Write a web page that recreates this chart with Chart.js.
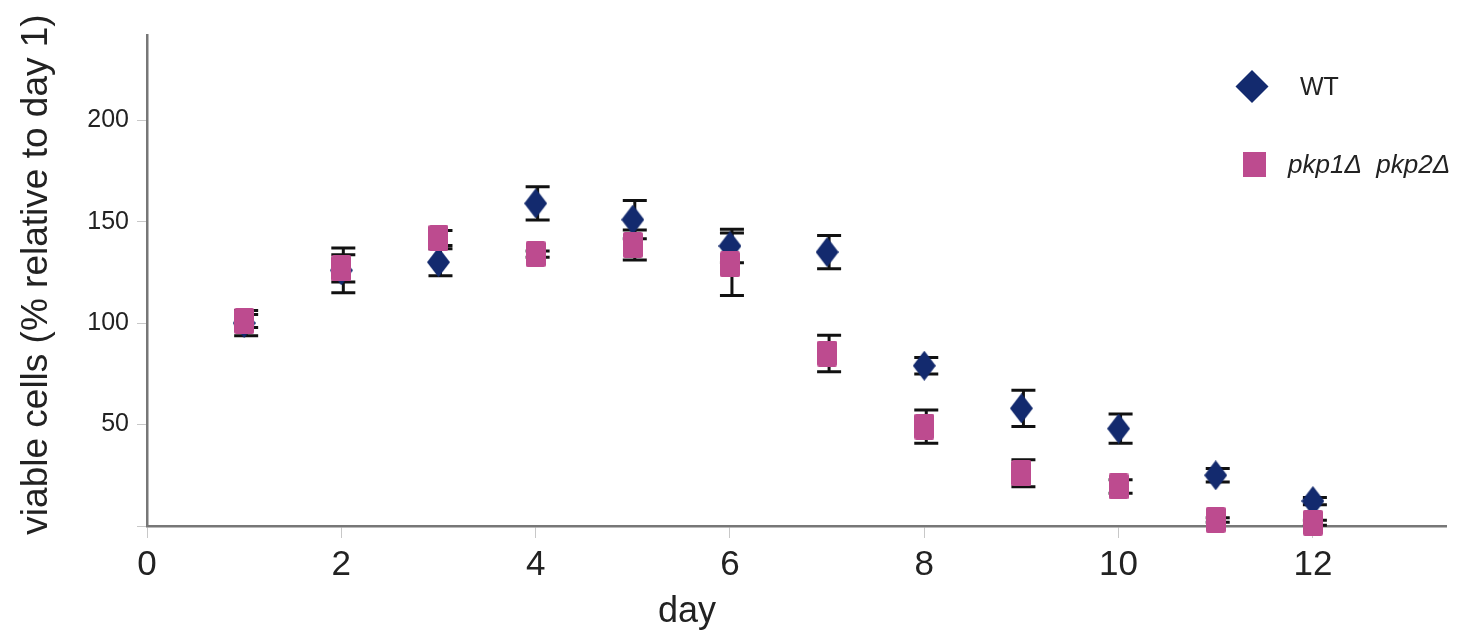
<!DOCTYPE html>
<html>
<head>
<meta charset="utf-8">
<script src="https://cdn.jsdelivr.net/npm/chart.js@4"></script>
<style>
  html, body { margin: 0; padding: 0; background: #fff; }
</style>
</head>
<body>
<canvas id="chart" width="1458" height="636"></canvas>
<script>
// values
const days = [1, 2, 3, 4, 5, 6, 7, 8, 9, 10, 11, 12];
const wtValues = [100, 126, 130, 159, 151, 138, 135, 79, 58, 48, 25, 12.3];
const wtErrors = [6.2, 11, 6.6, 8.2, 9.4, 8.2, 8.2, 4.1, 8.9, 7.2, 3.3, 1.8];
const pkpValues = [101, 127, 142, 134, 138.5, 129, 85, 49, 26, 19.5, 3, 1.6];
const pkpErrors = [3.2, 6.7, 3.7, 1.6, 7.4, 15.4, 9, 8.2, 6.7, 3.3, 1.1, 1.2];
const xTicks = [0, 2, 4, 6, 8, 10, 12];
const yTicks = [0, 50, 100, 150, 200];

const navy = "#132a6e";
const pink = "#bd4b8f";
const font = "'Liberation Sans', Arial, sans-serif";

function makeSquare(w, h, color) {
  const c = document.createElement("canvas");
  c.width = w;
  c.height = h;
  const g = c.getContext("2d");
  g.fillStyle = color;
  g.beginPath();
  g.roundRect(0, 0, w, h, 2);
  g.fill();
  return c;
}

function makeDiamond(w, h, color) {
  const c = document.createElement("canvas");
  c.width = w;
  c.height = h;
  const g = c.getContext("2d");
  g.fillStyle = color;
  g.beginPath();
  g.moveTo(w / 2, 0);
  g.lineTo(w, h / 2);
  g.lineTo(w / 2, h);
  g.lineTo(0, h / 2);
  g.closePath();
  g.fill();
  return c;
}

const toPoints = (vals, errs) => days.map((d, i) => ({ x: d, y: vals[i], err: errs[i] }));

// error bars, drawn under the markers
const errorBars = {
  id: "errorBars",
  beforeDatasetsDraw(chart) {
    const ctx = chart.ctx;
    const ys = chart.scales.y;
    ctx.save();
    ctx.strokeStyle = "#111";
    ctx.lineWidth = 3;
    chart.data.datasets.forEach((ds, di) => {
      const meta = chart.getDatasetMeta(di);
      ds.data.forEach((p, i) => {
        const x = meta.data[i].x + 2;
        const top = ys.getPixelForValue(p.y + p.err);
        const bot = ys.getPixelForValue(p.y - p.err);
        ctx.beginPath();
        ctx.moveTo(x, top);
        ctx.lineTo(x, bot);
        ctx.moveTo(x - 12, top);
        ctx.lineTo(x + 12, top);
        ctx.moveTo(x - 12, bot);
        ctx.lineTo(x + 12, bot);
        ctx.stroke();
      });
    });
    ctx.restore();
  }
};

// axis titles and legend
const extras = {
  id: "extras",
  afterDraw(chart) {
    const ctx = chart.ctx;
    const area = chart.chartArea;
    ctx.save();
    ctx.fillStyle = "#222";
    ctx.textBaseline = "alphabetic";
    ctx.textAlign = "center";
    ctx.font = "36px " + font;
    ctx.fillText("day", area.left + 540, 622);

    ctx.save();
    ctx.translate(47, (area.top + area.bottom) / 2 - 6);
    ctx.rotate(-Math.PI / 2);
    ctx.font = "37px " + font;
    ctx.fillText("viable cells (% relative to day 1)", 0, 0);
    ctx.restore();

    // legend
    const lx = area.right - 194;
    ctx.fillStyle = navy;
    ctx.beginPath();
    ctx.moveTo(lx, 70);
    ctx.lineTo(lx + 16.5, 86.5);
    ctx.lineTo(lx, 103);
    ctx.lineTo(lx - 16.5, 86.5);
    ctx.closePath();
    ctx.fill();
    ctx.fillStyle = pink;
    ctx.fillRect(lx - 9, 152, 23, 25);

    ctx.fillStyle = "#222";
    ctx.textAlign = "left";
    ctx.font = "25px " + font;
    ctx.fillText("WT", lx + 48, 95);
    ctx.font = "italic 26px " + font;
    ctx.fillText("pkp1\u0394  pkp2\u0394", lx + 36, 173);
    ctx.restore();
  }
};

new Chart(document.getElementById("chart"), {
  type: "scatter",
  data: {
    datasets: [
      {
        label: "pkp1\u0394 pkp2\u0394",
        data: toPoints(pkpValues, pkpErrors),
        pointStyle: makeSquare(20, 26, pink),
        order: 0,
        clip: false
      },
      {
        label: "WT",
        data: toPoints(wtValues, wtErrors),
        pointStyle: makeDiamond(23, 30, navy),
        order: 1,
        clip: false
      }
    ]
  },
  options: {
    responsive: false,
    devicePixelRatio: 1,
    animation: false,
    layout: { padding: { top: 35, right: 12, left: 0, bottom: 0 } },
    plugins: {
      legend: { display: false },
      tooltip: { enabled: false }
    },
    scales: {
      x: {
        type: "linear",
        min: 0,
        max: 13.37,
        afterBuildTicks: (s) => { s.ticks = xTicks.map((v) => ({ value: v })); },
        afterFit: (s) => { s.height = 110; },
        border: { color: "#777", width: 2.5 },
        grid: { drawOnChartArea: false, tickLength: 12, color: "#c8c8c8" },
        ticks: { color: "#222", font: { family: font, size: 35 }, padding: 6 }
      },
      y: {
        min: 0,
        max: 242,
        afterBuildTicks: (s) => { s.ticks = yTicks.map((v) => ({ value: v })); },
        afterFit: (s) => { s.width = 147; },
        border: { color: "#777", width: 2.5 },
        grid: { drawOnChartArea: false, tickLength: 10, color: "#c8c8c8" },
        ticks: {
          color: "#222",
          font: { family: font, size: 25 },
          padding: 8,
          callback: (v) => (v === 0 ? "" : v)
        }
      }
    }
  },
  plugins: [errorBars, extras]
});
</script>
</body>
</html>
